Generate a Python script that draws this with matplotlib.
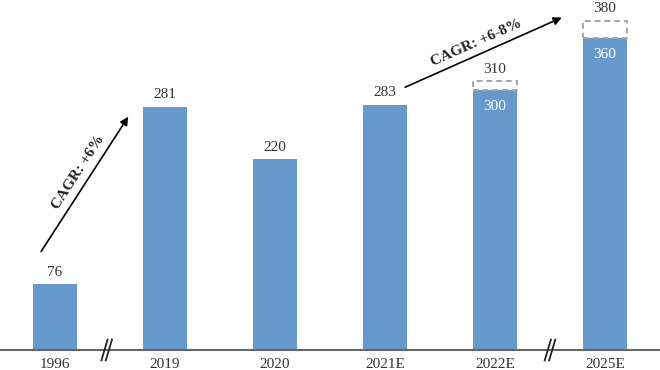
import matplotlib
matplotlib.use("Agg")
import matplotlib.pyplot as plt

plt.rcParams['font.family'] = ['Liberation Serif', 'DejaVu Serif']

# data
years = ['1996', '2019', '2020', '2021E', '2022E', '2025E']
base_values = [76, 281, 220, 283, 300, 360]
high_values = [76, 281, 220, 283, 310, 380]
break_positions = [0.47, 4.5]

bar_color = '#6699CC'
dash_color = '#A6A6A6'


def main():
    fig = plt.figure(figsize=(6.6, 3.7), dpi=100)
    ax = fig.add_axes([0, 20 / 370, 1, 350 / 370])
    xs = list(range(len(years)))

    ax.bar(xs, base_values, width=0.4, color=bar_color, zorder=2)

    for x, lo, hi in zip(xs, base_values, high_values):
        if hi > lo:
            ax.bar(x, hi - lo, bottom=lo, width=0.4, fill=False,
                   edgecolor=dash_color, linestyle=(0, (3, 2)), linewidth=1.4, zorder=3)
            ax.annotate(str(lo), (x, lo), xytext=(0, -12), textcoords='offset points',
                        ha='center', va='center', fontsize=11, color='white')
        ax.annotate(str(hi), (x, hi), xytext=(0, 4), textcoords='offset points',
                    ha='center', va='bottom', fontsize=11, color='#333333')

    # CAGR arrows
    ax.annotate('', xy=(0.68, 272), xytext=(-0.14, 111),
                arrowprops=dict(arrowstyle='-|>', color='black', lw=1.2, mutation_scale=12))
    ax.text(0.21, 205, 'CAGR: +6%', rotation=57, ha='center', va='center',
            fontsize=11, fontweight='bold', color='#222222')
    ax.annotate('', xy=(4.63, 385), xytext=(3.16, 302),
                arrowprops=dict(arrowstyle='-|>', color='black', lw=1.2, mutation_scale=12))
    ax.text(3.83, 354, 'CAGR: +6-8%', rotation=24, ha='center', va='center',
            fontsize=11, fontweight='bold', color='#222222')

    # axis break marks
    for bx in break_positions:
        for off in (-0.02, 0.02):
            ax.plot([bx + off - 0.028, bx + off + 0.028], [-12, 12],
                    color='#222222', lw=1.3, clip_on=False, zorder=5)

    ax.set_xlim(-0.5, 5.5)
    ax.set_ylim(0, 404)
    for side in ('top', 'right', 'left'):
        ax.spines[side].set_visible(False)
    ax.spines['bottom'].set_color('#666666')
    ax.spines['bottom'].set_linewidth(1.5)
    ax.set_yticks([])
    ax.set_xticks(xs)
    ax.set_xticklabels(years, fontsize=11, color='#333333')
    ax.tick_params(axis='x', length=0, pad=6)

    fig.savefig('out.png', dpi=100)


if __name__ == "__main__":
    main()
